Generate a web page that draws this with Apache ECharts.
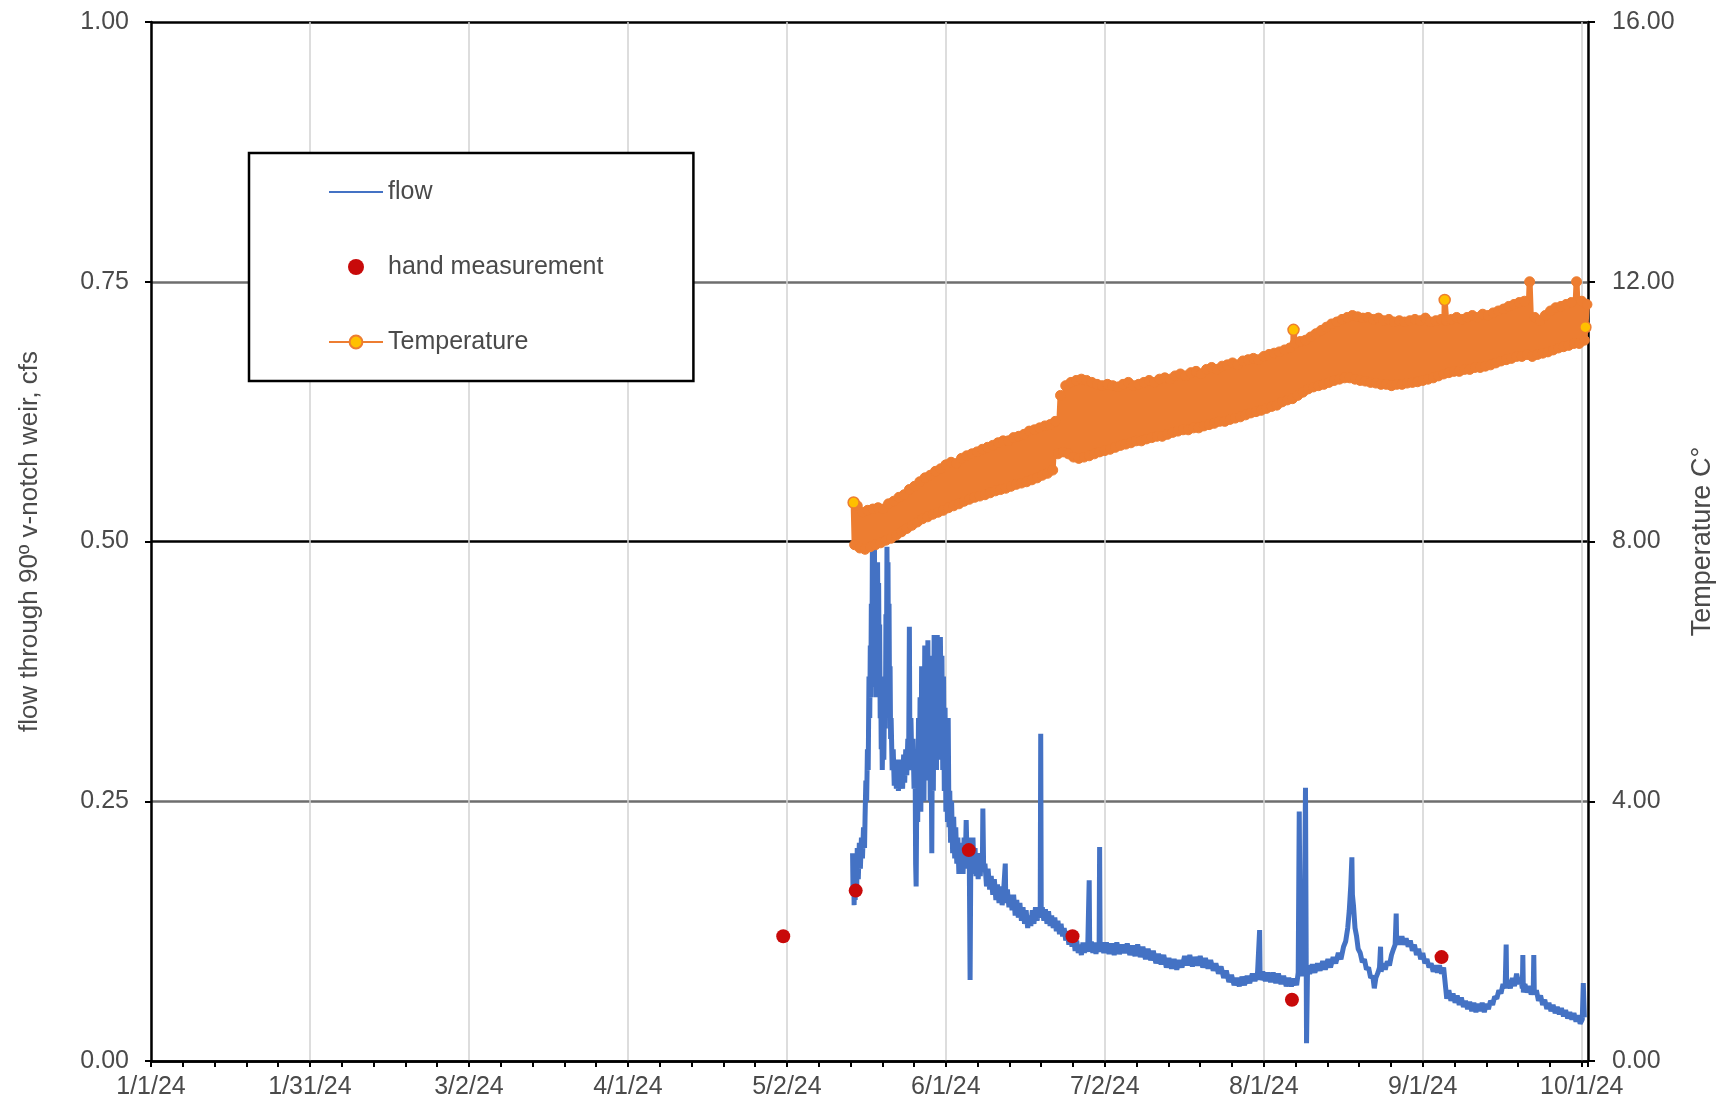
<!DOCTYPE html>
<html>
<head>
<meta charset="utf-8">
<script src="https://cdn.jsdelivr.net/npm/echarts@6/dist/echarts.min.js"></script>
<style>
html,body{margin:0;padding:0;background:#fff;}
#chart{width:1728px;height:1111px;}
</style>
</head>
<body>
<div id="chart"></div>
<script>
// ---- tick labels ----
const xTickLabels = ['1/1/24','1/31/24','3/2/24','4/1/24','5/2/24','6/1/24','7/2/24','8/1/24','9/1/24','10/1/24'];
const xTickStep = 30.5;            // days between labelled ticks
const leftTickLabels = ['0.00','0.25','0.50','0.75','1.00'];
const rightTickLabels = ['0.00','4.00','8.00','12.00','16.00'];

// ---- flow readings [day of 2024 (0 = 1/1/24), cfs] ----
const flowReadings = [
[134.6,.200],[134.7,.160],[134.8,.190],[134.9,.150],[135.0,.185],[135.1,.155],[135.3,.195],[135.4,.165],[135.5,.205],[135.7,.175],
[135.9,.210],[136.1,.185],[136.3,.215],[136.5,.195],[136.7,.225],[136.9,.205],[137.0,.235],[137.15,.270],[137.3,.250],[137.45,.300],
[137.6,.280],[137.75,.370],[137.9,.330],[138.0,.400],[138.1,.350],[138.2,.440],[138.3,.370],[138.4,.490],[138.5,.360],[138.6,.480],
[138.7,.380],[138.8,.495],[138.9,.410],[139.0,.470],[139.1,.350],[139.2,.440],[139.3,.400],[139.4,.480],[139.5,.405],[139.6,.460],
[139.7,.380],[139.8,.420],[139.9,.330],[140.0,.370],[140.1,.300],[140.2,.340],[140.3,.280],[140.45,.330],[140.6,.290],[140.75,.360],
[140.9,.320],[141.0,.430],[141.1,.380],[141.2,.495],[141.3,.420],[141.4,.480],[141.5,.370],[141.6,.440],[141.7,.340],[141.8,.380],
[141.9,.310],[142.0,.330],[142.2,.280],[142.4,.300],[142.6,.265],[142.8,.290],[143.0,.262],[143.2,.285],[143.4,.260],[143.6,.290],
[143.8,.265],[144.0,.285],[144.2,.262],[144.4,.295],[144.6,.268],[144.8,.300],[145.0,.275],[145.2,.310],[145.35,.280],[145.5,.418],
[145.6,.300],[145.8,.330],[146.0,.280],[146.2,.310],[146.4,.262],[146.6,.285],[146.7,.190],[146.8,.168],[146.9,.240],[147.0,.300],
[147.1,.230],[147.25,.330],[147.4,.260],[147.55,.350],[147.7,.240],[147.85,.380],[148.0,.280],[148.15,.360],[148.3,.250],[148.45,.400],
[148.6,.300],[148.75,.370],[148.9,.270],[149.05,.405],[149.2,.300],[149.35,.390],[149.5,.250],[149.65,.330],[149.8,.200],[149.95,.360],
[150.1,.260],[150.25,.410],[150.4,.300],[150.55,.395],[150.7,.280],[150.85,.410],[151.0,.320],[151.15,.400],[151.3,.290],[151.45,.408],
[151.6,.330],[151.75,.390],[151.9,.280],[152.05,.370],[152.2,.260],[152.35,.340],[152.5,.240],[152.65,.300],[152.8,.230],[152.95,.330],
[153.1,.225],[153.25,.260],[153.4,.210],[153.6,.250],[153.8,.200],[154.0,.235],[154.2,.195],[154.4,.225],[154.6,.190],[154.8,.215],
[155.0,.180],[155.2,.210],[155.4,.185],[155.6,.205],[155.8,.180],[156.0,.215],[156.2,.185],[156.4,.232],[156.6,.190],[156.8,.215],
[157.0,.190],[157.15,.078],[157.3,.205],[157.5,.185],[157.7,.215],[157.9,.180],[158.1,.205],[158.3,.178],[158.5,.200],[158.7,.175],
[158.9,.195],[159.1,.178],[159.3,.200],[159.5,.185],[159.6,.243],[159.75,.185],[160.0,.190],[160.3,.168],[160.6,.185],[160.9,.165],
[161.2,.178],[161.5,.160],[161.8,.175],[162.1,.155],[162.4,.170],[162.7,.152],[163.0,.168],[163.3,.150],[163.6,.165],[163.9,.190],
[164.0,.152],[164.3,.165],[164.6,.148],[164.9,.160],[165.2,.145],[165.5,.160],[165.8,.140],[166.1,.155],[166.4,.138],[166.7,.152],
[167.0,.135],[167.3,.148],[167.6,.132],[167.9,.145],[168.2,.128],[168.5,.140],[168.8,.130],[169.1,.145],[169.4,.132],[169.7,.148],
[170.0,.135],[170.3,.145],[170.6,.138],[170.7,.315],[170.8,.140],[171.0,.148],[171.3,.135],[171.6,.146],[171.9,.132],[172.2,.144],
[172.5,.130],[172.8,.140],[173.1,.128],[173.4,.138],[173.7,.125],[174.0,.135],[174.3,.122],[174.6,.132],[174.9,.120],[175.2,.128],
[175.5,.116],[175.8,.125],[176.1,.112],[176.4,.122],[176.7,.110],[177.0,.120],[177.3,.106],[177.6,.116],[177.9,.104],[178.2,.112],
[178.5,.102],[178.8,.114],[179.1,.104],[179.4,.113],[179.7,.105],[180.0,.174],[180.1,.106],[180.4,.115],[180.7,.104],[181.0,.114],
[181.3,.103],[181.6,.113],[181.9,.105],[182.0,.206],[182.1,.106],[182.4,.114],[182.8,.104],[183.3,.114],[183.8,.103],[184.3,.113],
[184.8,.102],[185.3,.114],[185.8,.103],[186.3,.112],[186.8,.104],[187.3,.113],[187.8,.102],[188.3,.111],[188.8,.101],[189.3,.112],
[189.8,.100],[190.3,.110],[190.8,.098],[191.3,.108],[191.8,.097],[192.3,.106],[192.8,.094],[193.3,.103],[193.8,.093],[194.3,.102],
[194.8,.090],[195.3,.099],[195.8,.089],[196.3,.098],[196.8,.088],[197.3,.097],[197.8,.090],[198.3,.101],[198.8,.092],[199.3,.102],
[199.8,.091],[200.3,.100],[200.8,.092],[201.3,.101],[201.8,.090],[202.3,.099],[202.8,.089],[203.3,.097],[203.8,.087],[204.3,.094],
[204.8,.084],[205.3,.091],[205.8,.080],[206.3,.087],[206.8,.076],[207.3,.083],[207.8,.073],[208.3,.080],[208.8,.072],[209.3,.081],
[209.8,.073],[210.3,.082],[210.8,.075],[211.3,.084],[211.8,.077],[212.3,.085],[212.7,.126],[212.8,.078],[213.3,.086],[213.8,.077],
[214.3,.085],[214.8,.076],[215.3,.085],[215.8,.075],[216.3,.084],[216.8,.074],[217.3,.082],[217.8,.072],[218.3,.080],[218.8,.072],
[219.3,.079],[219.8,.073],[220.1,.085],[220.3,.240],[220.5,.090],[220.8,.082],[221.2,.090],[221.5,.263],[221.7,.017],[221.9,.092],
[222.3,.084],[222.8,.093],[223.3,.085],[223.8,.094],[224.3,.087],[224.8,.096],[225.3,.088],[225.8,.098],[226.3,.090],[226.8,.100],
[227.3,.094],[227.8,.104],[228.3,.098],[228.8,.110],[229.2,.115],[229.6,.128],[229.9,.145],[230.2,.170],[230.4,.196],[230.5,.160],
[230.7,.150],[231.0,.128],[231.3,.120],[231.6,.108],[232.0,.104],[232.4,.095],[232.8,.098],[233.2,.088],[233.6,.090],[234.0,.080],
[234.4,.082],[234.7,.070],[235.0,.080],[235.4,.085],[235.7,.090],[235.9,.110],[236.0,.086],[236.4,.094],[236.8,.088],[237.2,.096],
[237.6,.092],[238.0,.102],[238.4,.108],[238.7,.112],[238.9,.142],[239.0,.112],[239.3,.120],[239.6,.112],[240.0,.120],[240.4,.112],
[240.8,.118],[241.2,.110],[241.6,.116],[242.0,.106],[242.4,.112],[242.8,.102],[243.2,.108],[243.6,.098],[244.0,.104],[244.4,.094],
[244.8,.098],[245.2,.090],[245.6,.094],[246.0,.086],[246.4,.092],[246.8,.085],[247.2,.092],[247.6,.084],[248.0,.090],[248.2,.080],
[248.4,.070],[248.6,.060],[249.0,.068],[249.4,.058],[249.8,.065],[250.2,.056],[250.6,.063],[251.0,.054],[251.4,.061],[251.8,.052],
[252.2,.058],[252.6,.050],[253.0,.057],[253.4,.048],[253.8,.056],[254.2,.047],[254.6,.055],[255.0,.048],[255.4,.056],[255.8,.047],
[256.2,.055],[256.6,.050],[257.0,.058],[257.4,.054],[257.8,.062],[258.2,.060],[258.6,.068],[259.0,.065],[259.4,.074],[259.8,.070],
[260.0,.112],[260.1,.070],[260.4,.078],[260.8,.070],[261.2,.080],[261.6,.072],[262.0,.084],[262.4,.074],[262.8,.080],[263.1,.070],
[263.2,.102],[263.3,.066],[263.6,.074],[264.0,.066],[264.4,.072],[264.8,.064],[265.2,.070],[265.3,.102],[265.4,.064],[265.8,.068],
[266.2,.058],[266.6,.063],[267.0,.054],[267.4,.059],[267.8,.050],[268.2,.056],[268.6,.048],[269.0,.054],[269.4,.046],[269.8,.052],
[270.2,.045],[270.6,.051],[271.0,.043],[271.4,.049],[271.8,.041],[272.2,.047],[272.6,.040],[273.0,.046],[273.4,.038],[273.8,.044],
[274.2,.036],[274.6,.040],[274.8,.075],[275.0,.042]
];

// ---- hand measurements ----
const handDay = [121.3, 135.2, 156.9, 176.8, 218.9, 247.6];
const handCfs = [0.120, 0.164, 0.203, 0.120, 0.059, 0.100];

// ---- temperature (°C): daily low (at day) and high (at day + 0.5), from 5/15 ----
const tempStartDay = 135;
const tempLow = [
7.95,7.90,7.88,7.92,7.95,7.98,8.02,8.05,8.10,8.15,8.20,8.25,8.30,8.35,8.38,8.42,8.45,8.48,8.52,8.55,
8.58,8.62,8.65,8.68,8.70,8.72,8.75,8.78,8.80,8.82,8.85,8.88,8.90,8.92,8.95,8.98,9.02,9.05,9.10,9.35,
9.38,9.35,9.30,9.28,9.30,9.32,9.35,9.38,9.40,9.42,9.45,9.48,9.50,9.52,9.55,9.55,9.58,9.60,9.62,9.62,
9.65,9.68,9.70,9.72,9.72,9.75,9.75,9.78,9.80,9.82,9.85,9.85,9.88,9.90,9.92,9.95,9.98,10.00,10.02,10.05,
10.08,10.10,10.15,10.18,10.20,10.25,10.30,10.35,10.38,10.40,10.42,10.45,10.48,10.50,10.52,10.52,10.50,10.48,10.47,10.45,
10.44,10.42,10.42,10.40,10.42,10.42,10.44,10.45,10.46,10.48,10.50,10.52,10.55,10.58,10.60,10.62,10.62,10.65,10.65,10.68,
10.68,10.70,10.72,10.75,10.78,10.80,10.82,10.85,10.85,10.88,10.85,10.88,10.90,10.92,10.95,10.98,11.00,11.02,11.05,11.05,
11.10
];
const tempHigh = [
8.55,8.45,8.48,8.50,8.52,8.50,8.58,8.62,8.68,8.72,8.80,8.85,8.92,8.98,9.02,9.08,9.12,9.18,9.22,9.20,
9.28,9.32,9.35,9.38,9.42,9.45,9.48,9.52,9.55,9.55,9.60,9.62,9.65,9.70,9.72,9.75,9.78,9.80,9.85,10.25,
10.40,10.45,10.48,10.50,10.48,10.45,10.42,10.40,10.42,10.40,10.38,10.42,10.45,10.40,10.42,10.45,10.48,10.45,10.50,10.52,
10.50,10.55,10.58,10.55,10.60,10.62,10.58,10.65,10.68,10.65,10.70,10.72,10.75,10.72,10.78,10.80,10.82,10.80,10.85,10.88,
10.90,10.92,10.95,10.98,11.05,11.08,11.10,11.15,11.20,11.25,11.30,11.35,11.38,11.42,11.45,11.48,11.46,11.44,11.45,11.42,
11.44,11.40,11.42,11.38,11.40,11.38,11.40,11.42,11.40,11.44,11.38,11.40,11.42,11.40,11.42,11.45,11.42,11.45,11.48,11.45,
11.50,11.48,11.52,11.55,11.58,11.62,11.65,11.68,11.70,12.00,11.45,11.40,11.48,11.55,11.60,11.62,11.65,11.68,12.00,11.70,
11.65
];
// individual temperature readings that stand out (their yellow marker is visible)
const tempFlagDay = [134.8, 219.2, 248.2, 275.2];
const tempFlagC = [8.60, 11.26, 11.72, 11.30];

// ---- build series data ----
const handData = handDay.map((d, i) => [d, handCfs[i]]);
const tempData = [];
tempLow.forEach((v, i) => {
  tempData.push([tempStartDay + i, v]);
  tempData.push([tempStartDay + i + 0.5, tempHigh[i]]);
});
const flagData = tempFlagDay.map((d, i) => [d, tempFlagC[i]]);
flagData.forEach(p => tempData.push(p));
tempData.sort((a, b) => a[0] - b[0]);

const FONT = '"Liberation Sans", Arial, sans-serif';
const LABEL = '#4a4a4a';
const BLUE = '#4472C4', ORANGE = '#ED7D31', RED = '#C80A0A', YELLOW = '#FFC000';

const chart = echarts.init(document.getElementById('chart'), null, {renderer: 'canvas'});
chart.setOption({
  animation: false,
  backgroundColor: '#fff',
  textStyle: {fontFamily: FONT},
  grid: {left: 151, right: 140, top: 22, bottom: 50, containLabel: false},
  legend: {
    orient: 'vertical',
    left: 249, top: 153,
    backgroundColor: '#fff',
    borderColor: '#000',
    borderWidth: 2.5,
    padding: [26, 90, 26, 79],
    itemWidth: 54,
    itemHeight: 16,
    itemGap: 49,
    textStyle: {fontFamily: FONT, fontSize: 25, color: LABEL, lineHeight: 26},
    data: [
      {name: 'flow', itemStyle: {opacity: 0}},
      {name: 'hand measurement'},
      {name: 'Temperature', itemStyle: {color: YELLOW, borderColor: ORANGE, borderWidth: 2}}
    ]
  },
  xAxis: {
    type: 'value',
    min: 0, max: 275.7,
    interval: xTickStep,
    axisLine: {show: true, onZero: false, lineStyle: {color: '#000', width: 2.5}},
    axisTick: {show: true, inside: false, length: 6, lineStyle: {color: '#000', width: 2}},
    minorTick: {show: true, splitNumber: 5, length: 6, lineStyle: {color: '#000', width: 2}},
    splitLine: {show: true, lineStyle: {color: '#d2d2d2', width: 1.5}},
    axisLabel: {
      fontFamily: FONT, fontSize: 25, color: LABEL, margin: 14,
      formatter: v => {
        const k = v / xTickStep;
        const r = Math.round(k);
        return Math.abs(k - r) < 1e-6 && xTickLabels[r] !== undefined ? xTickLabels[r] : '';
      }
    }
  },
  yAxis: [{
    type: 'value',
    position: 'left',
    min: 0, max: 1, interval: 0.25,
    name: 'flow through 90º v-notch weir, cfs',
    nameLocation: 'middle',
    nameGap: 108,
    nameTextStyle: {fontFamily: FONT, fontSize: 26, color: LABEL},
    axisLine: {show: true, lineStyle: {color: '#000', width: 2.5}},
    axisTick: {show: true, inside: false, length: 6, lineStyle: {color: '#000', width: 2}},
    splitLine: {show: true, lineStyle: {color: ['#000', '#6e6e6e', '#000', '#6e6e6e', '#000'], width: 2.5}},
    axisLabel: {
      fontFamily: FONT, fontSize: 25, color: LABEL, margin: 22,
      formatter: v => leftTickLabels[Math.round(v / 0.25)]
    }
  }, {
    type: 'value',
    position: 'right',
    min: 0, max: 16, interval: 4,
    name: 'Temperature C°',
    nameLocation: 'middle',
    nameGap: 101,
    nameTextStyle: {fontFamily: FONT, fontSize: 27, color: LABEL},
    axisLine: {show: true, lineStyle: {color: '#000', width: 2.5}},
    axisTick: {show: true, inside: false, length: 7, lineStyle: {color: '#000', width: 2}},
    splitLine: {show: false},
    axisLabel: {
      fontFamily: FONT, fontSize: 25, color: LABEL, margin: 24,
      formatter: v => rightTickLabels[Math.round(v / 4)]
    }
  }],
  series: [{
    name: 'flow',
    type: 'line',
    yAxisIndex: 0,
    data: flowReadings,
    showSymbol: false,
    symbol: 'none',
    lineStyle: {color: BLUE, width: 5},
    itemStyle: {color: BLUE},
    z: 2
  }, {
    name: 'hand measurement',
    type: 'scatter',
    yAxisIndex: 0,
    data: handData,
    symbol: 'circle',
    symbolSize: 14,
    itemStyle: {color: RED, opacity: 1},
    z: 5
  }, {
    name: 'Temperature',
    type: 'line',
    yAxisIndex: 1,
    data: tempData,
    symbol: 'circle',
    symbolSize: 10,
    showAllSymbol: true,
    lineStyle: {color: ORANGE, width: 6},
    itemStyle: {color: ORANGE, borderColor: ORANGE, borderWidth: 1},
    z: 3
  }, {
    name: 'tempFlag',
    type: 'scatter',
    yAxisIndex: 1,
    data: flagData,
    symbol: 'circle',
    symbolSize: 11,
    itemStyle: {color: YELLOW, borderColor: ORANGE, borderWidth: 1.5, opacity: 1},
    z: 4
  }]
});
</script>
</body>
</html>
